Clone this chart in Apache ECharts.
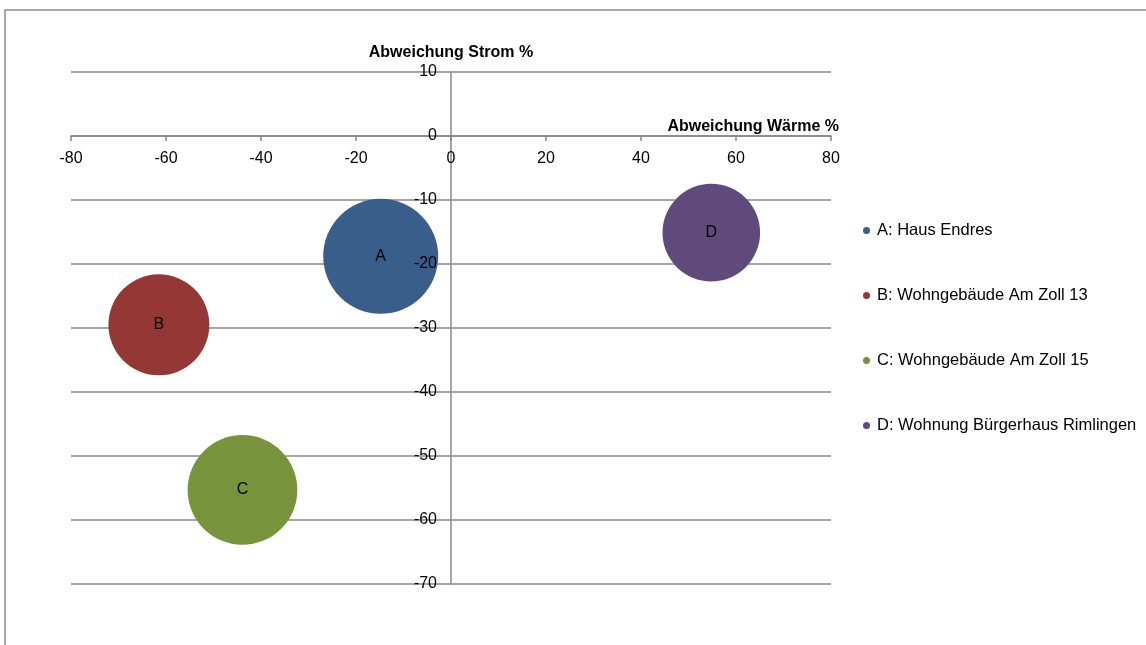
<!DOCTYPE html>
<html>
<head>
<meta charset="utf-8">
<script src="https://cdn.jsdelivr.net/npm/echarts@6/dist/echarts.min.js"></script>
<style>
  html, body { margin: 0; padding: 0; background: #fff; }
  #chart { width: 1146px; height: 645px; }
</style>
</head>
<body>
<div id="chart"></div>
<script>
// Objekte und Abweichungen (in %)
const kuerzel = ['A', 'B', 'C', 'D'];
const namen = [
  'A: Haus Endres',
  'B: Wohngebäude Am Zoll 13',
  'C: Wohngebäude Am Zoll 15',
  'D: Wohnung Bürgerhaus Rimlingen'
];
const abweichungWaerme = [-14.8, -61.5, -43.9, 54.8];
const abweichungStrom = [-18.8, -29.5, -55.3, -15.1];
const blasenGroesse = [100, 77, 91, 72];

// Achsen
const xTicks = { min: -80, max: 80, interval: 20 };
const yTicks = { min: -70, max: 10, interval: 10 };

const farben = ['#3a5e8c', '#953735', '#77933c', '#604a7b'];
const schrift = '"Liberation Sans", Arial, sans-serif';
const linie = '#878787';
const maxGroesse = Math.max(...blasenGroesse);

// Plotbereich
const gridBox = { left: 71, right: 315, top: 72, bottom: 61 };
const plotW = 1146 - gridBox.left - gridBox.right;
const plotH = 645 - gridBox.top - gridBox.bottom;
// Achsen kreuzen sich im Nullpunkt: Versatz vom Rand des Plotbereichs
const xAchseVersatz = -plotH * (0 - yTicks.min) / (yTicks.max - yTicks.min);
const yAchseVersatz = -plotW * (0 - xTicks.min) / (xTicks.max - xTicks.min);

const series = kuerzel.map((k, i) => ({
  name: namen[i],
  type: 'scatter',
  symbol: 'circle',
  z: 2,
  symbolSize: (val) => 115 * Math.sqrt(val[2] / maxGroesse),
  itemStyle: { color: farben[i], opacity: 1 },
  label: {
    show: true,
    position: 'inside',
    formatter: k,
    color: '#000',
    fontFamily: schrift,
    fontSize: 16,
    padding: [3, 0, 0, 0]
  },
  emphasis: { disabled: true },
  data: [[abweichungWaerme[i], abweichungStrom[i], blasenGroesse[i]]]
}));

const yBase = {
  type: 'value',
  min: yTicks.min,
  max: yTicks.max,
  interval: yTicks.interval,
  position: 'left',
  offset: yAchseVersatz
};

const chart = echarts.init(document.getElementById('chart'), null, { renderer: 'canvas' });
chart.setOption({
  animation: false,
  backgroundColor: '#fff',
  textStyle: { fontFamily: schrift },
  grid: Object.assign({ containLabel: false }, gridBox),
  xAxis: {
    type: 'value',
    min: xTicks.min,
    max: xTicks.max,
    interval: xTicks.interval,
    position: 'bottom',
    offset: xAchseVersatz,
    axisLine: { onZero: false, lineStyle: { color: linie, width: 1.5 } },
    axisTick: { show: true, inside: false, length: 5, lineStyle: { color: linie, width: 1.5 } },
    axisLabel: { color: '#000', fontSize: 16, fontFamily: schrift, margin: 15 },
    splitLine: { show: false }
  },
  yAxis: [
    Object.assign({}, yBase, {
      z: 0,
      axisLine: { show: true, onZero: false, lineStyle: { color: linie, width: 1.5 } },
      axisTick: { show: false },
      axisLabel: { show: false },
      splitLine: { show: true, lineStyle: { color: linie, width: 1.5 } },
      name: 'Abweichung Strom %',
      nameLocation: 'end',
      nameGap: 11,
      nameTextStyle: { color: '#000', fontWeight: 'bold', fontSize: 16, fontFamily: schrift, align: 'center' }
    }),
    Object.assign({}, yBase, {
      z: 10,
      axisLine: { show: false, onZero: false },
      axisTick: { show: false },
      axisLabel: { color: '#000', fontSize: 16, fontFamily: schrift, margin: 14, padding: [4, 0, 0, 0] },
      splitLine: { show: false }
    })
  ],
  legend: {
    orient: 'vertical',
    left: 858,
    top: 217,
    icon: 'circle',
    itemWidth: 7,
    itemHeight: 7,
    itemGap: 48,
    textStyle: { color: '#000', fontSize: 16.5, fontFamily: schrift, lineHeight: 16, padding: [0, 0, 0, 2] },
    data: namen
  },
  graphic: [
    {
      type: 'rect',
      silent: true,
      shape: { x: 5, y: 10, width: 1300, height: 800 },
      style: { fill: null, stroke: '#8a8a8a', lineWidth: 1.5 },
      z: -1
    },
    {
      type: 'text',
      silent: true,
      right: 1146 - 839,
      top: 119,
      style: {
        text: 'Abweichung Wärme %',
        fill: '#000',
        font: 'bold 16px "Liberation Sans", Arial, sans-serif',
        textAlign: 'right'
      }
    }
  ],
  series: series
});
</script>
</body>
</html>
